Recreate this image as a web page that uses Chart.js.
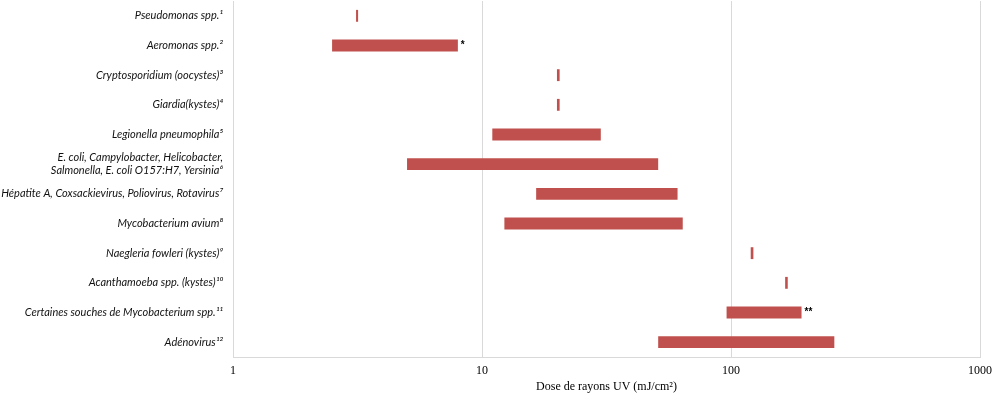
<!DOCTYPE html>
<html>
<head>
<meta charset="utf-8">
<script src="https://cdn.jsdelivr.net/npm/chart.js@4/dist/chart.umd.min.js"></script>
<style>
  html, body { margin: 0; padding: 0; background: #fff; }
  #graphique { display: block; }
</style>
</head>
<body>
<canvas id="graphique" width="1000" height="404"></canvas>
<script>
// Micro-organismes (étiquettes de l'axe vertical)
const categories = [
    'Pseudomonas spp.¹',
    'Aeromonas spp.²',
    'Cryptosporidium (oocystes)³',
    'Giardia(kystes)⁴',
    'Legionella pneumophila⁵',
    ['E. coli, Campylobacter, Helicobacter,', 'Salmonella, E. coli O157:H7, Yersinia⁶'],
    'Hépatite A, Coxsackievirus, Poliovirus, Rotavirus⁷',
    'Mycobacterium avium⁸',
    'Naegleria fowleri (kystes)⁹',
    'Acanthamoeba spp. (kystes)¹⁰',
    'Certaines souches de Mycobacterium spp.¹¹',
    'Adénovirus¹²'
];

// Dose UV minimale et maximale (mJ/cm²)
const doseMin = [3.12, 2.5, 20, 20, 11, 5, 16.5, 12.3, 120, 165, 96, 51];
const doseMax = [3.18, 8, 20.5, 20.5, 30, 51, 61, 64, 123, 169, 192, 260];

// Renvois à droite des barres
const renvois = ['', '*', '', '', '', '', '', '', '', '', '**', ''];

const xTicks = [1, 10, 100, 1000];

const grisGrille = '#d9d9d9';

// Petit plugin pour écrire les astérisques après les barres
const pluginRenvois = {
    id: 'renvois',
    afterDatasetsDraw(chart) {
        const ctx = chart.ctx;
        const meta = chart.getDatasetMeta(0);
        ctx.save();
        ctx.fillStyle = '#000';
        ctx.font = 'bold 10px "Liberation Sans"';
        ctx.textAlign = 'left';
        ctx.textBaseline = 'middle';
        meta.data.forEach((bar, i) => {
            if (!renvois[i]) return;
            const props = bar.getProps(['x', 'base', 'y'], true);
            const fin = Math.max(props.x, props.base);
            ctx.fillText(renvois[i], fin + 3, props.y);
        });
        ctx.restore();
    }
};

new Chart(document.getElementById('graphique'), {
    type: 'bar',
    data: {
        labels: categories,
        datasets: [{
            data: doseMin.map((v, i) => [v, doseMax[i]]),
            backgroundColor: '#c0504d',
            borderWidth: 0,
            borderSkipped: false,
            categoryPercentage: 1,
            barPercentage: 0.4
        }]
    },
    options: {
        indexAxis: 'y',
        responsive: false,
        animation: false,
        layout: { padding: { top: 1, right: 20, bottom: 0, left: 0 } },
        plugins: {
            legend: { display: false },
            tooltip: { enabled: false }
        },
        scales: {
            x: {
                type: 'logarithmic',
                min: 1,
                max: 1000,
                afterBuildTicks: scale => {
                    scale.ticks = xTicks.map(v => ({ value: v }));
                },
                afterFit: scale => { scale.height = 47; },
                grid: { color: grisGrille, drawTicks: false },
                border: { display: true, color: grisGrille },
                ticks: {
                    padding: 7,
                    color: '#000',
                    font: { family: '"Liberation Serif"', size: 12 },
                    maxRotation: 0,
                    callback: v => String(v)
                },
                title: {
                    display: true,
                    text: 'Dose de rayons UV (mJ/cm²)',
                    color: '#000',
                    font: { family: '"Liberation Serif"', size: 12 },
                    padding: { top: 0, bottom: 10 }
                }
            },
            y: {
                afterFit: scale => {
                    scale.width = 233;
                    scale.paddingTop = 0;
                    scale.paddingBottom = 0;
                },
                grid: { display: false, drawTicks: false },
                border: { display: true, color: grisGrille },
                ticks: {
                    padding: 10,
                    color: '#111',
                    autoSkip: false,
                    font: { family: 'Lato', style: 'italic', size: 11 }
                }
            }
        }
    },
    plugins: [pluginRenvois]
});
</script>
</body>
</html>
